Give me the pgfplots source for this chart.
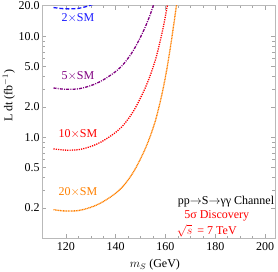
\documentclass[border=0pt]{standalone}
\usepackage{fontspec}
\setmainfont{Liberation Serif}
\usepackage{pgfplots}
\pgfplotsset{compat=1.18}
\definecolor{cblue}{rgb}{0.1,0.1,1}
\definecolor{cpurple}{rgb}{0.5,0,0.5}
\definecolor{cred}{rgb}{1,0,0}
\definecolor{corange}{rgb}{1,0.5,0}
\begin{document}
\fontsize{12}{14}\selectfont
\begin{tikzpicture}
\begin{axis}[
 scale only axis, width=232.7pt, height=232.6pt,
 ymode=log, xmin=110.5, xmax=204, ymin=0.1, ymax=20,
 xtick={120,140,160,180,200}, xticklabels={120,140,160,180,200},
 minor x tick num=3,
 ytick={0.2,0.5,1,2,5,10,20}, yticklabels={0.2,0.5,1.0,2.0,5.0,10.0,20.0},
 minor ytick={0.1,0.3,0.4,0.6,0.7,0.8,0.9,3,4,6,7,8,9},
 tick align=inside, major tick length=4pt, minor tick length=2.5pt,
 axis line style={gray!55, line width=0.8pt},
 tick style={gray!70, line width=0.5pt},
 tick label style={font=\fontsize{12}{14}\selectfont, black},
 yticklabel style={inner sep=2.5pt},
 xlabel={$m_S$ (GeV)},
 every axis x label/.style={at={(rel axis cs:0.484,0)}, yshift=-26.7pt, anchor=center, font=\fontsize{12}{14}\selectfont},
 ylabel={L dt (fb$^{-1}$)},
 every axis y label/.style={at={(rel axis cs:0,0.612)}, xshift=-33.5pt, anchor=center, rotate=90, font=\fontsize{12}{14}\selectfont},
 clip=true,
]
% 2xSM
\addplot[cblue, line width=1.3pt, dash pattern=on 4pt off 2pt, smooth] coordinates {
(115,19.18) (118,18.77) (120,18.63) (122,18.63) (125,18.81) (128,19.56) (131,20.67)};
% 5xSM
\addplot[cpurple, line width=1.3pt, dash pattern=on 3pt off 1.2pt on 1pt off 1.2pt, smooth] coordinates {
(115,3.069) (118,3.004) (120,2.98) (122,2.98) (125,3.01) (128,3.129) (131,3.308) (134,3.576) (137,3.963) (140,4.47) (143,5.245) (146,6.556) (148,7.897) (150,9.834) (152,12.52) (154,16.69) (156,23.54)};
% 10xSM
\addplot[cred, line width=1.3pt, dash pattern=on 1.2pt off 1.1pt, smooth] coordinates {
(115,0.767) (118,0.751) (120,0.745) (122,0.745) (125,0.752) (128,0.782) (131,0.827) (134,0.894) (137,0.991) (140,1.118) (143,1.311) (146,1.639) (148,1.974) (150,2.459) (152,3.129) (154,4.172) (156,5.886) (157.5,8.195) (159,11.92) (160.5,18.63) (162,31.3)};
% 20xSM
\addplot[corange, line width=1.3pt, dash pattern=on 1pt off 0.6pt, smooth] coordinates {
(115,0.1918) (118,0.1877) (120,0.1863) (122,0.1863) (125,0.1881) (128,0.1956) (131,0.2067) (134,0.2235) (137,0.2477) (140,0.2794) (143,0.3278) (146,0.4098) (148,0.4936) (150,0.6146) (152,0.7823) (154,1.043) (156,1.471) (157.5,2.049) (159,2.980) (160.5,4.656) (162,7.823) (163.5,13.97) (165,25.6)};
\node[cblue] at (axis cs:124.8,15) {2$\times$SM};
\node[cpurple] at (axis cs:124.8,4.06) {5$\times$SM};
\node[cred] at (axis cs:124.8,1.08) {10$\times$SM};
\node[corange] at (axis cs:124.8,0.286) {20$\times$SM};
\node[black, inner sep=0pt] at (axis cs:184.3,0.233) {pp{$\to$}S{$\to$}γγ Channel};
\node[cred, inner sep=0pt] at (axis cs:180.6,0.166) {5σ Discovery};
\node[cred, inner sep=0pt, anchor=base] at (axis cs:176.6,0.109) {$\sqrt{s}\,$ = 7 TeV};
\end{axis}
\pgfresetboundingbox
\path (-42.3pt,-32.7pt) rectangle (235.7pt,238.3pt);
\end{tikzpicture}
\end{document}
